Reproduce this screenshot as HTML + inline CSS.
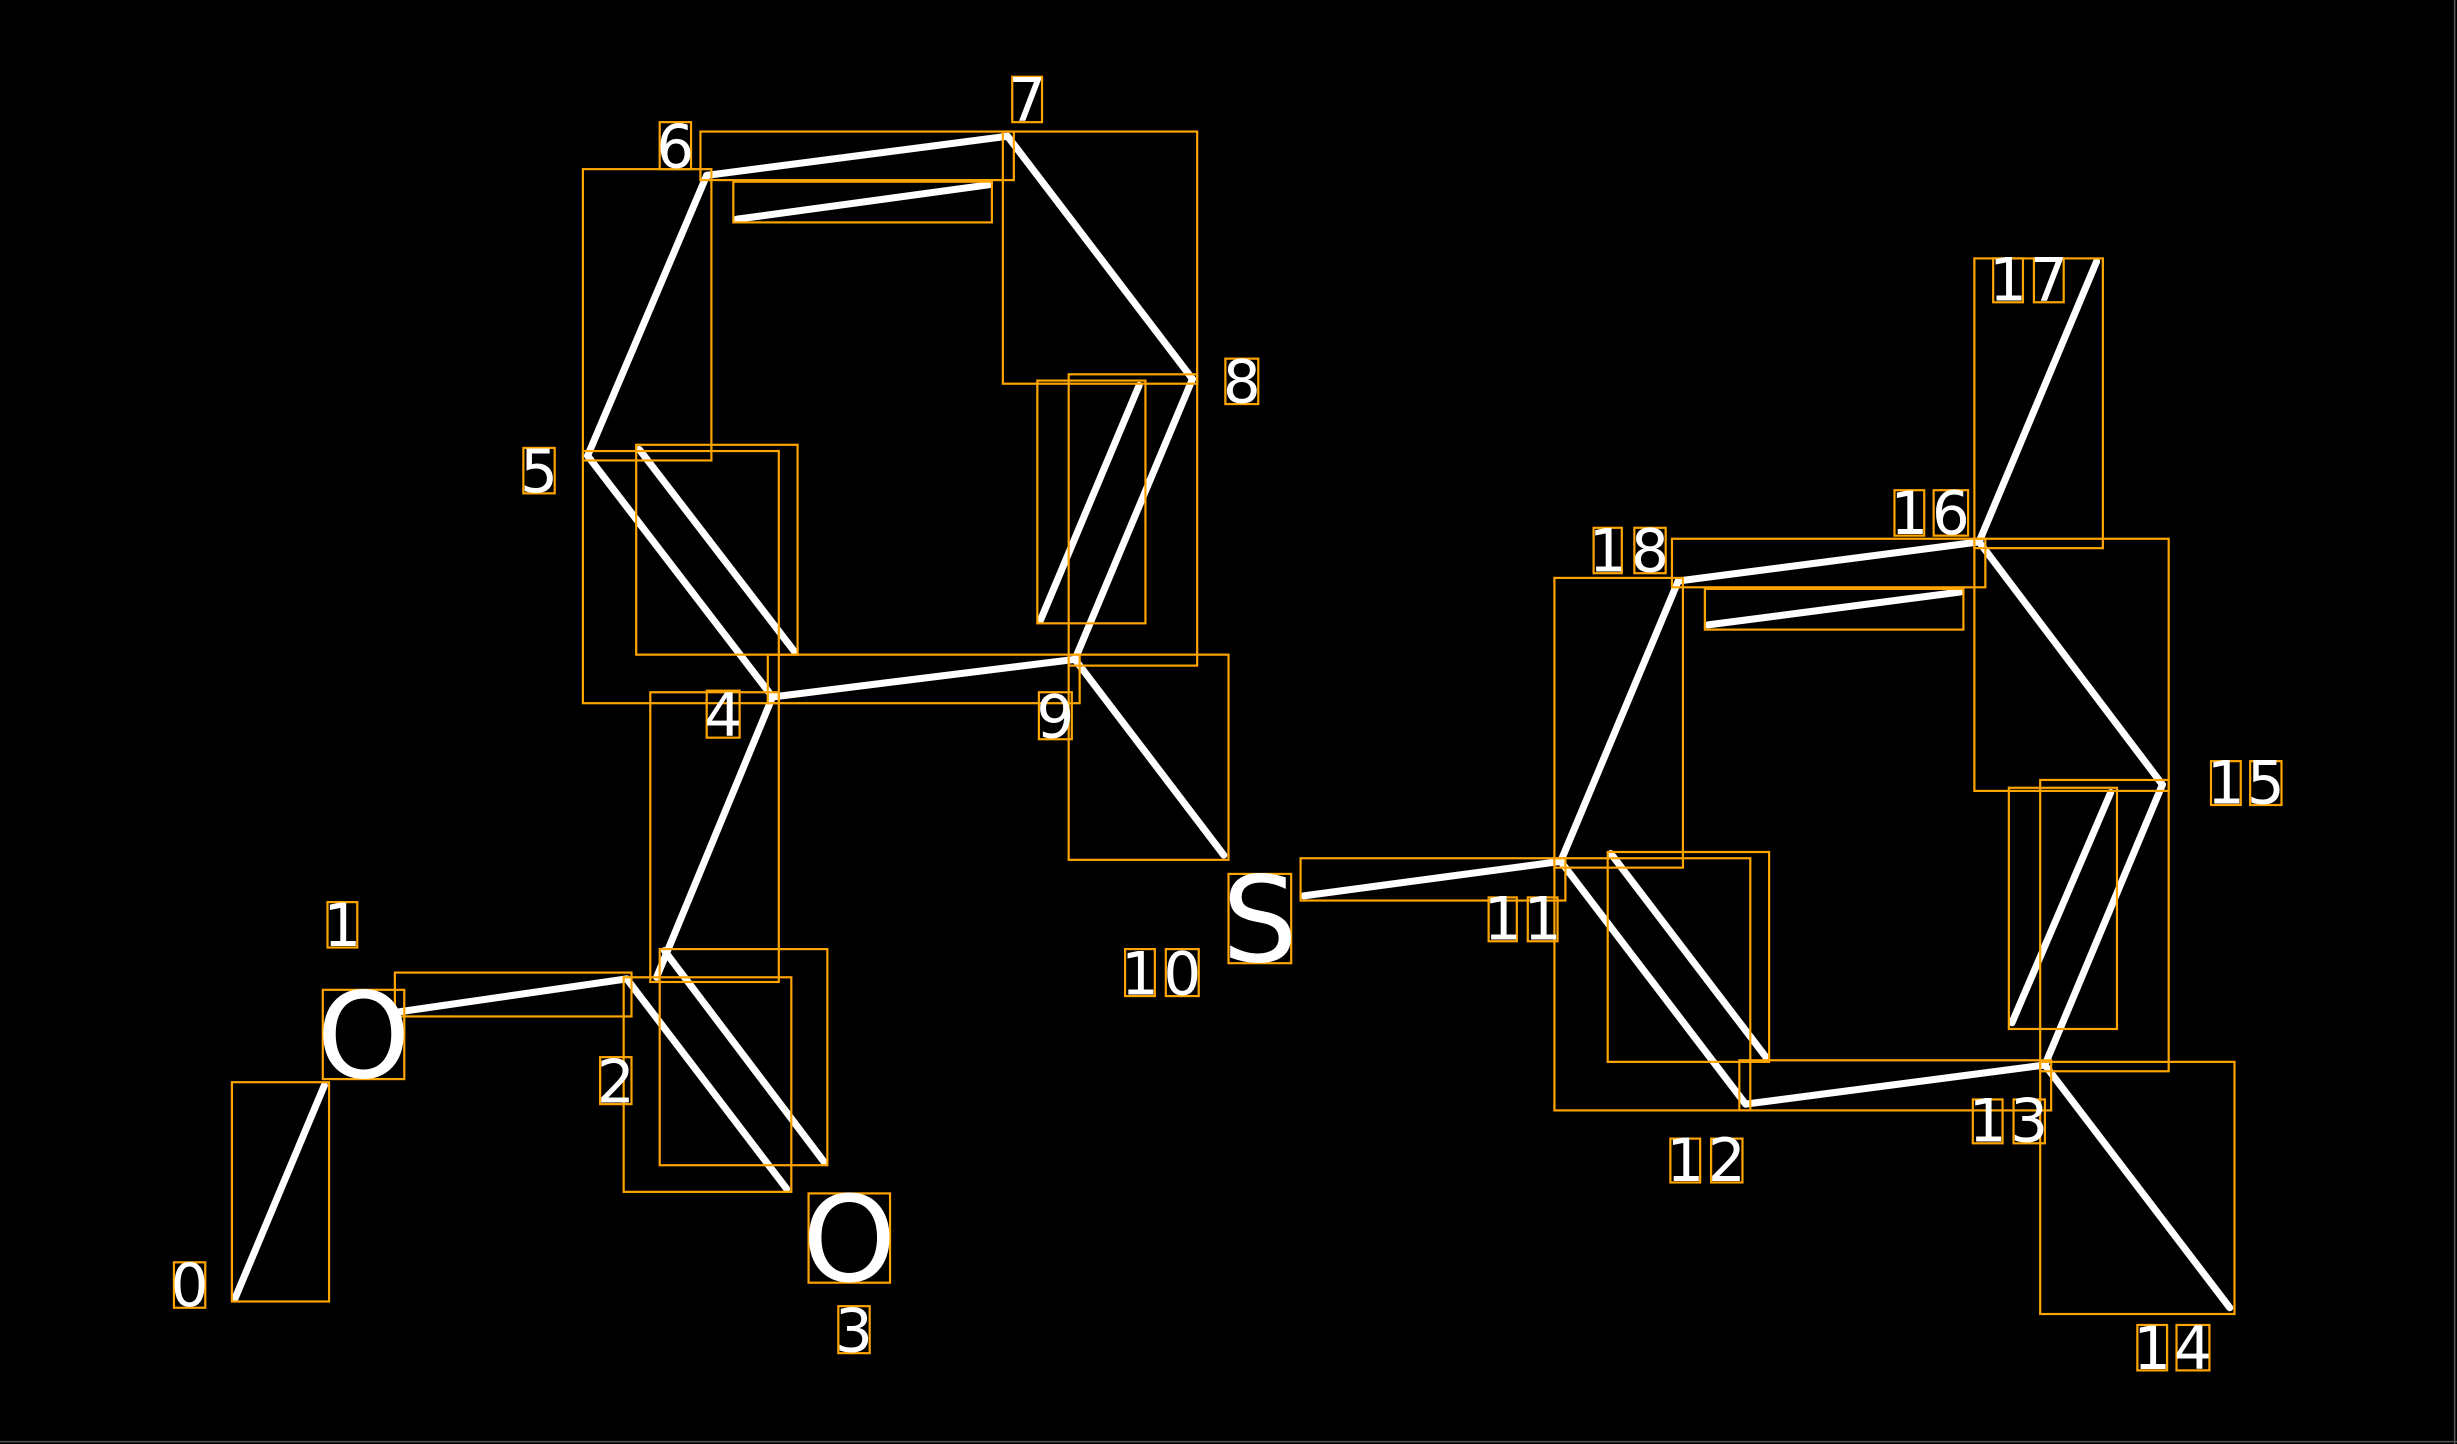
<!DOCTYPE html>
<html><head><meta charset="utf-8"><style>
html,body{margin:0;padding:0;background:#000;}
svg{display:block;}
text{font-family:"DejaVu Sans","Liberation Sans",sans-serif;fill:#fff;}
</style></head><body>
<svg width="2457" height="1444" viewBox="0 0 1568 922" preserveAspectRatio="none" xmlns="http://www.w3.org/2000/svg">
<rect width="1568" height="922" fill="#000"/>
<line x1="1566.5" y1="0" x2="1566.5" y2="922" stroke="#555" stroke-width="1"/>
<line x1="0" y1="920.5" x2="1568" y2="920.5" stroke="#555" stroke-width="1"/>
<g stroke="#fff" stroke-width="4.5" stroke-linecap="round" fill="none">
<line x1="150" y1="829" x2="207" y2="693"/>
<line x1="255" y1="646" x2="400" y2="625"/>
<line x1="400" y1="625" x2="502" y2="759"/>
<line x1="424" y1="607" x2="526" y2="742"/>
<line x1="493" y1="445" x2="419" y2="624"/>
<line x1="375" y1="291" x2="493" y2="445"/>
<line x1="408" y1="287" x2="507" y2="416"/>
<line x1="375" y1="291" x2="451" y2="112"/>
<line x1="451" y1="112" x2="643" y2="87"/>
<line x1="470" y1="140" x2="631" y2="118"/>
<line x1="643" y1="87" x2="761" y2="242"/>
<line x1="761" y1="242" x2="686" y2="421"/>
<line x1="727" y1="246" x2="664" y2="396"/>
<line x1="686" y1="421" x2="493" y2="445"/>
<line x1="686" y1="421" x2="781" y2="546"/>
<line x1="832" y1="572" x2="996" y2="550"/>
<line x1="996" y1="550" x2="1114" y2="705"/>
<line x1="1028" y1="545" x2="1127" y2="675"/>
<line x1="1114" y1="705" x2="1305" y2="680"/>
<line x1="1305" y1="680" x2="1423" y2="835"/>
<line x1="1305" y1="680" x2="1380" y2="501"/>
<line x1="1284" y1="653" x2="1347" y2="506"/>
<line x1="1380" y1="501" x2="1263" y2="346"/>
<line x1="1263" y1="346" x2="1338" y2="167"/>
<line x1="1263" y1="346" x2="1071" y2="371"/>
<line x1="1090" y1="399" x2="1251" y2="378"/>
<line x1="1071" y1="371" x2="996" y2="550"/>
</g>
<g stroke="#FFA500" stroke-width="1.4" fill="none">
<rect x="148" y="691" width="62" height="140"/>
<rect x="252" y="621" width="151" height="28"/>
<rect x="398" y="624" width="107" height="137"/>
<rect x="421" y="606" width="107" height="138"/>
<rect x="415" y="442" width="82" height="185"/>
<rect x="372" y="288" width="125" height="161"/>
<rect x="406" y="284" width="103" height="134"/>
<rect x="372" y="108" width="82" height="186"/>
<rect x="447" y="84" width="200" height="31"/>
<rect x="468" y="116" width="165" height="26"/>
<rect x="640" y="84" width="124" height="161"/>
<rect x="682" y="239" width="82" height="186"/>
<rect x="662" y="243" width="69" height="155"/>
<rect x="490" y="418" width="199" height="31"/>
<rect x="682" y="418" width="102" height="131"/>
<rect x="830" y="548" width="169" height="27"/>
<rect x="992" y="548" width="125" height="161"/>
<rect x="1026" y="544" width="103" height="134"/>
<rect x="1110" y="677" width="199" height="32"/>
<rect x="1302" y="678" width="124" height="161"/>
<rect x="1302" y="498" width="82" height="186"/>
<rect x="1282" y="503" width="69" height="154"/>
<rect x="1260" y="344" width="124" height="161"/>
<rect x="1260" y="165" width="82" height="185"/>
<rect x="1067" y="344" width="200" height="31"/>
<rect x="1088" y="376" width="165" height="26"/>
<rect x="992" y="369" width="82" height="185"/>
<!-- label boxes -->
<rect x="206" y="632" width="52" height="57"/>
<rect x="516" y="762" width="52" height="57"/>
<rect x="784" y="558" width="40" height="57"/>
<rect x="111" y="806" width="20" height="29"/>
<rect x="209" y="576" width="19" height="29"/>
<rect x="383" y="675" width="20" height="30"/>
<rect x="535" y="834" width="20" height="30"/>
<rect x="451" y="441" width="21" height="30"/>
<rect x="334" y="286" width="20" height="29"/>
<rect x="421" y="78" width="20" height="30"/>
<rect x="646" y="49" width="19" height="29"/>
<rect x="782" y="229" width="21" height="29"/>
<rect x="663" y="442" width="21" height="30"/>
<rect x="718" y="606" width="19" height="30"/><rect x="744" y="606" width="21" height="30"/>
<rect x="950" y="573" width="18" height="28"/><rect x="975" y="573" width="19" height="28"/>
<rect x="1066" y="727" width="19" height="28"/><rect x="1092" y="727" width="20" height="28"/>
<rect x="1259" y="702" width="19" height="28"/><rect x="1285" y="702" width="20" height="28"/>
<rect x="1364" y="846" width="19" height="29"/><rect x="1389" y="846" width="21" height="29"/>
<rect x="1411" y="486" width="19" height="28"/><rect x="1436" y="486" width="20" height="28"/>
<rect x="1209" y="313" width="19" height="29"/><rect x="1234" y="313" width="22" height="29"/>
<rect x="1272" y="165" width="19" height="28"/><rect x="1298" y="165" width="19" height="28"/>
<rect x="1017" y="337" width="18" height="29"/><rect x="1043" y="337" width="20" height="29"/>
</g>
<g font-size="76" text-anchor="middle">
<text x="232" y="688">O</text>
<text x="542" y="818">O</text>
<text x="804" y="614">S</text>
</g>
<g font-size="38" text-anchor="middle">
<text x="121" y="834">0</text>
<text x="218.5" y="604">1</text>
<text x="393" y="704">2</text>
<text x="545" y="863">3</text>
<text x="461.5" y="470">4</text>
<text x="344" y="314">5</text>
<text x="431" y="107">6</text>
<text x="655.5" y="77">7</text>
<text x="792.5" y="257">8</text>
<text x="673.5" y="471">9</text>
<text x="727.5" y="635">1</text><text x="754.5" y="635">0</text>
<text x="959" y="600">1</text><text x="984.5" y="600">1</text>
<text x="1075.5" y="754">1</text><text x="1102" y="754">2</text>
<text x="1268.5" y="729">1</text><text x="1295" y="729">3</text>
<text x="1373.5" y="874">1</text><text x="1399.5" y="874">4</text>
<text x="1420.5" y="513">1</text><text x="1446" y="513">5</text>
<text x="1218.5" y="341">1</text><text x="1245" y="341">6</text>
<text x="1281.5" y="192">1</text><text x="1307.5" y="192">7</text>
<text x="1026" y="365">1</text><text x="1053" y="365">8</text>
</g>
</svg>
</body></html>
